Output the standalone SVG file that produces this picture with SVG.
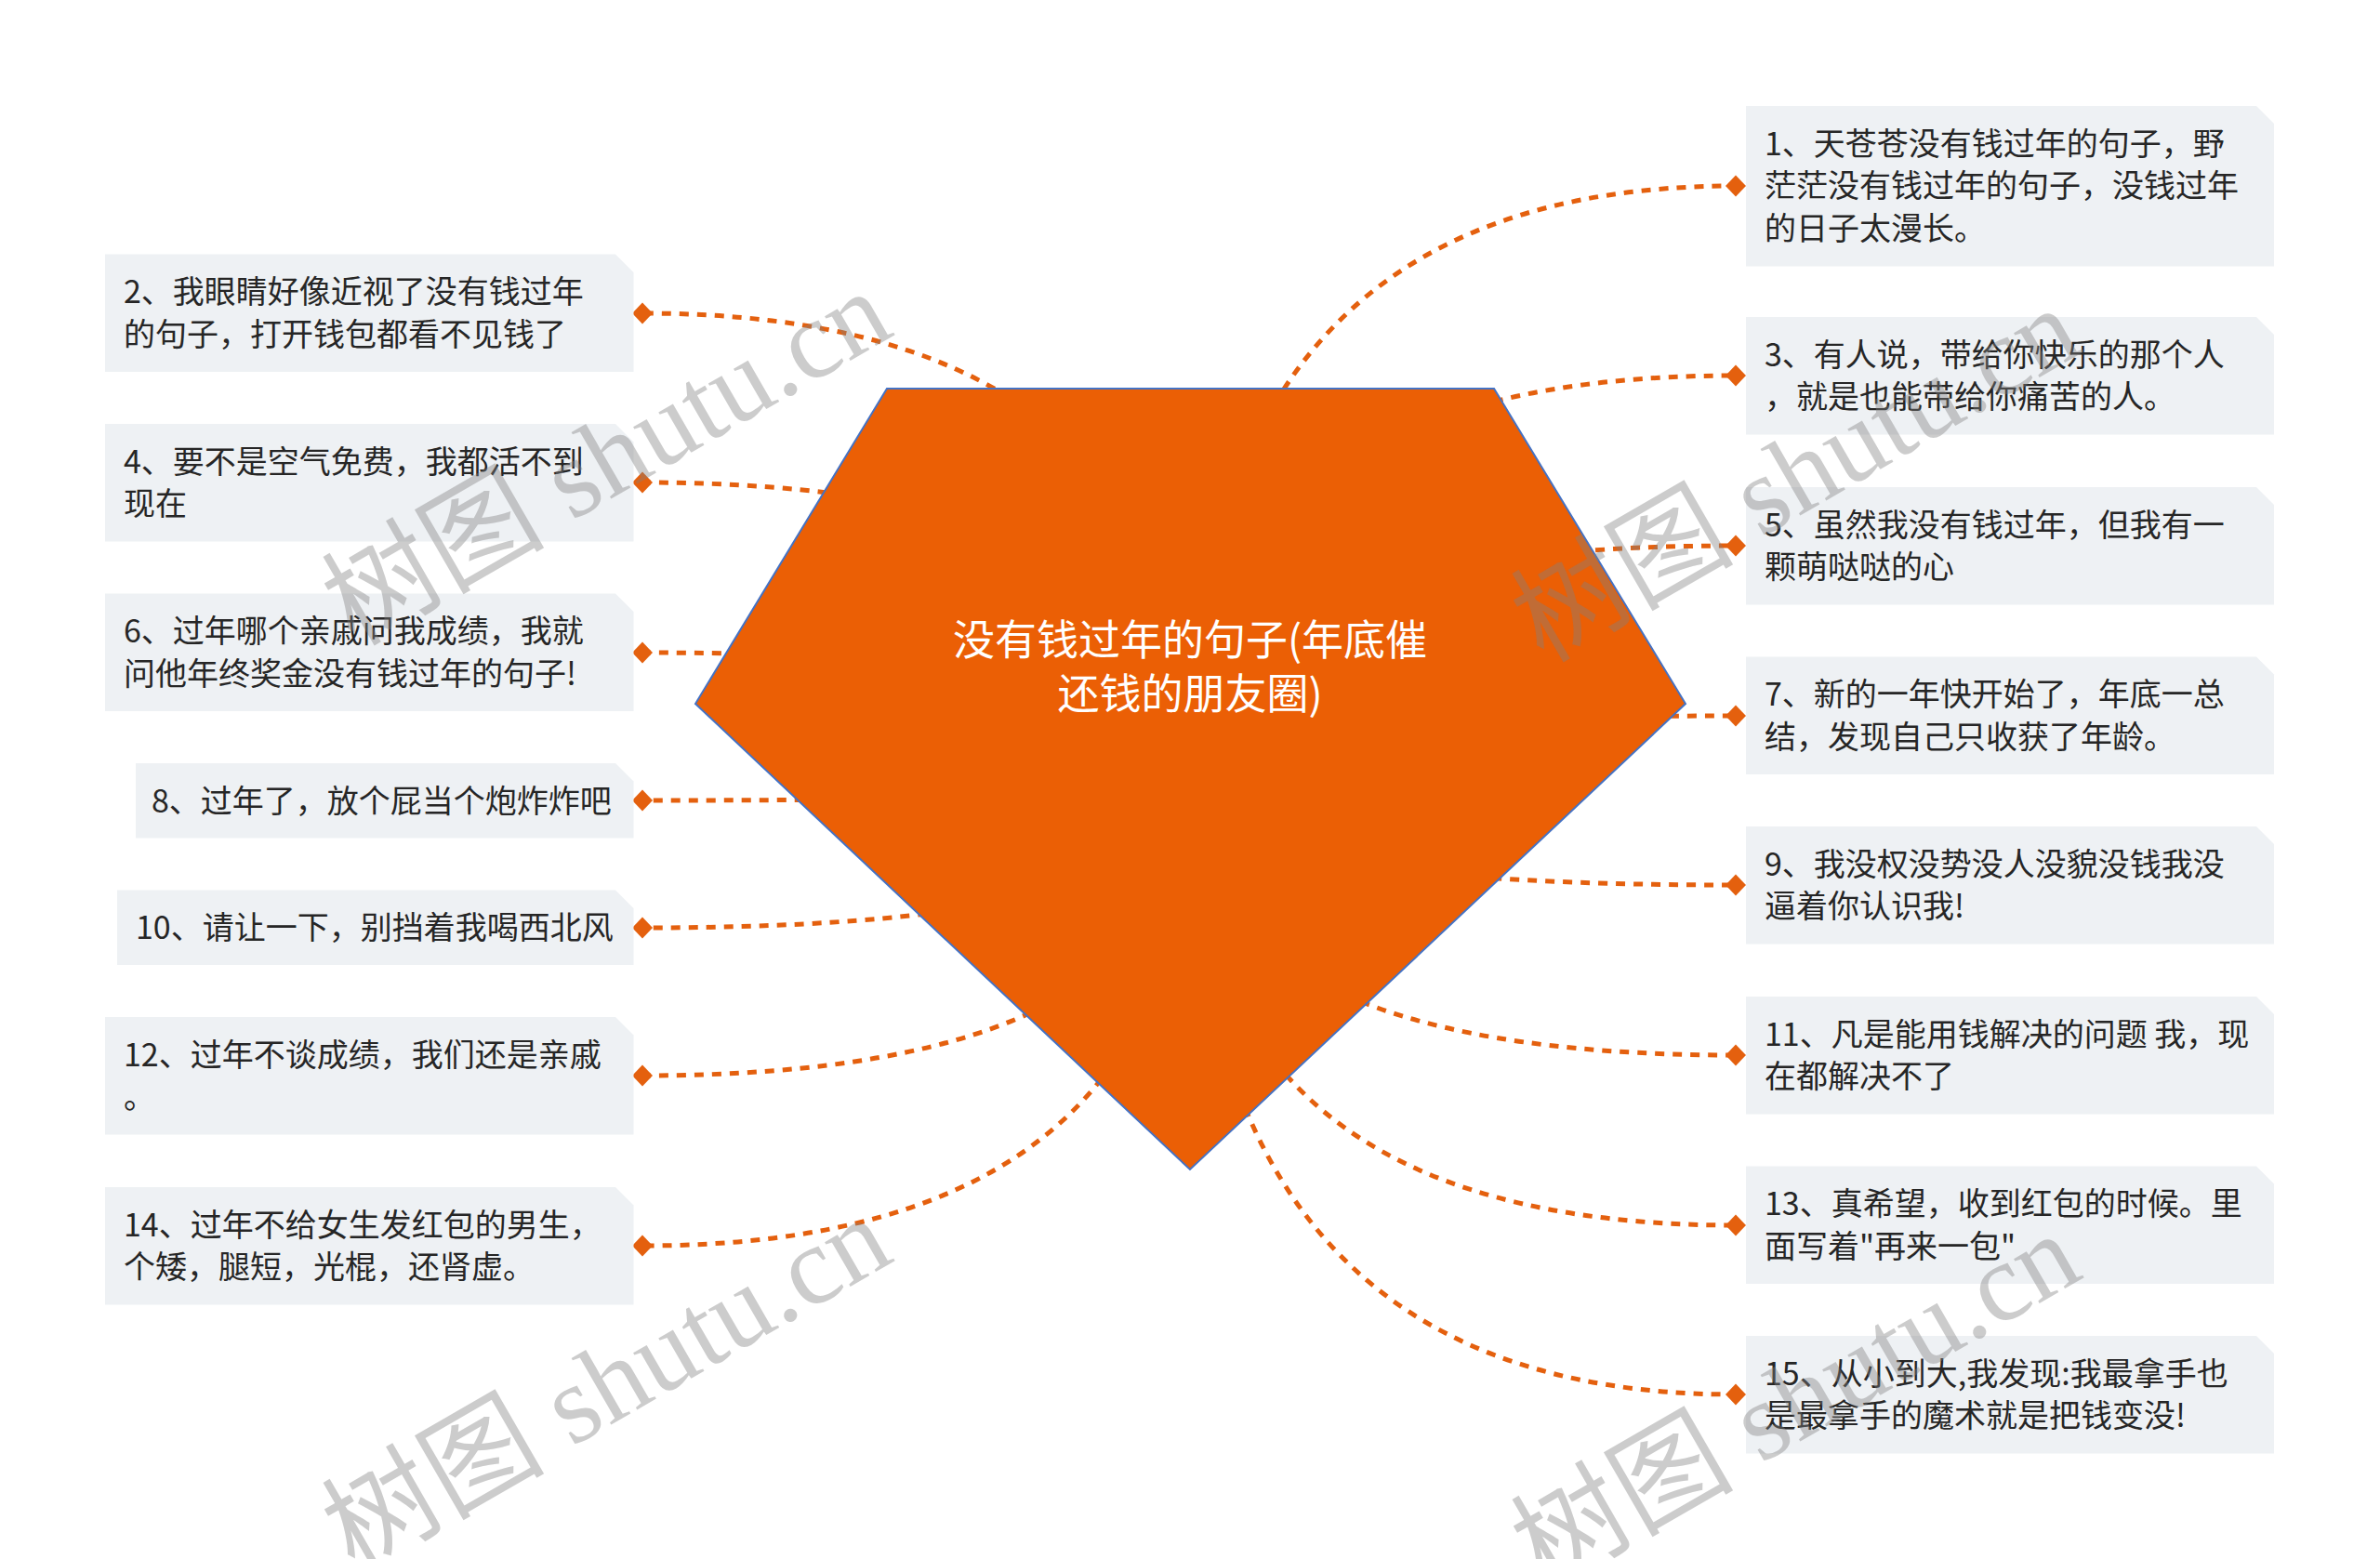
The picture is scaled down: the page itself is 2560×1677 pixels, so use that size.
<svg xmlns="http://www.w3.org/2000/svg" width="2560" height="1677" viewBox="0 0 2560 1677">
<style>
.box{fill:#EEF1F4}
.t{font-family:"Noto Sans CJK SC","Microsoft YaHei",sans-serif;font-size:34px;fill:#262626}
.root{font-family:"Noto Sans CJK SC","Microsoft YaHei",sans-serif;font-size:45px;fill:#FFFFFF;text-anchor:middle}
.c{fill:none;stroke:#E4600E;stroke-width:5;stroke-dasharray:10 9}
.d{fill:#E4600E}
.wm{font-family:"Liberation Serif","Noto Sans CJK SC",serif;font-size:120px;fill:#7f7f7f;fill-opacity:0.4}
</style>
<rect width="2560" height="1677" fill="#FFFFFF"/>
<g id="connectors">
<path class="c" d="M1280,838 Q1280,200 1867,200"/>
<path class="c" d="M1280,838 Q1280,404 1867,404"/>
<path class="c" d="M1280,838 Q1280,587 1867,587"/>
<path class="c" d="M1280,838 Q1280,770 1867,770"/>
<path class="c" d="M1280,838 Q1280,952 1867,952"/>
<path class="c" d="M1280,838 Q1280,1135 1867,1135"/>
<path class="c" d="M1280,838 Q1280,1318 1867,1318"/>
<path class="c" d="M1280,838 Q1280,1500 1867,1500"/>
<path class="c" d="M1280,838 Q1280,337 691,337"/>
<path class="c" d="M1280,838 Q1280,519 691,519"/>
<path class="c" d="M1280,838 Q1280,702 691,702"/>
<path class="c" d="M1280,838 Q1280,861 691,861"/>
<path class="c" d="M1280,838 Q1280,998 691,998"/>
<path class="c" d="M1280,838 Q1280,1157 691,1157"/>
<path class="c" d="M1280,838 Q1280,1340 691,1340"/>
<polygon class="d" points="1867,188.5 1878,200 1867,211.5 1856,200"/>
<polygon class="d" points="1867,392.5 1878,404 1867,415.5 1856,404"/>
<polygon class="d" points="1867,575.5 1878,587 1867,598.5 1856,587"/>
<polygon class="d" points="1867,758.5 1878,770 1867,781.5 1856,770"/>
<polygon class="d" points="1867,940.5 1878,952 1867,963.5 1856,952"/>
<polygon class="d" points="1867,1123.5 1878,1135 1867,1146.5 1856,1135"/>
<polygon class="d" points="1867,1306.5 1878,1318 1867,1329.5 1856,1318"/>
<polygon class="d" points="1867,1488.5 1878,1500 1867,1511.5 1856,1500"/>
<polygon class="d" points="691,325.5 702,337 691,348.5 680,337"/>
<polygon class="d" points="691,507.5 702,519 691,530.5 680,519"/>
<polygon class="d" points="691,690.5 702,702 691,713.5 680,702"/>
<polygon class="d" points="691,849.5 702,861 691,872.5 680,861"/>
<polygon class="d" points="691,986.5 702,998 691,1009.5 680,998"/>
<polygon class="d" points="691,1145.5 702,1157 691,1168.5 680,1157"/>
<polygon class="d" points="691,1328.5 702,1340 691,1351.5 680,1340"/>
</g>
<g id="root">
<polygon points="954,418 1607,418 1813,757 1280,1258 748,757" fill="#EB5F05" stroke="#4472C4" stroke-width="2"/>
<text class="root"><tspan x="1280" y="705">没有钱过年的句子(年底催</tspan><tspan x="1280" y="763">还钱的朋友圈)</tspan></text>
</g>
<g id="n1">
<path class="box" d="M1878,114 H2427 L2446,133 V286.5 H1878 Z"/>
<text class="t"><tspan x="1898" y="166.5">1、天苍苍没有钱过年的句子，野</tspan><tspan x="1898" y="212.2">茫茫没有钱过年的句子，没钱过年</tspan><tspan x="1898" y="257.9">的日子太漫长。</tspan></text>
</g>
<g id="n3">
<path class="box" d="M1878,341 H2427 L2446,360 V467.5 H1878 Z"/>
<text class="t"><tspan x="1898" y="393.5">3、有人说，带给你快乐的那个人</tspan><tspan x="1898" y="439.2">，就是也能带给你痛苦的人。</tspan></text>
</g>
<g id="n5">
<path class="box" d="M1878,524 H2427 L2446,543 V650.5 H1878 Z"/>
<text class="t"><tspan x="1898" y="576.5">5、虽然我没有钱过年，但我有一</tspan><tspan x="1898" y="622.2">颗萌哒哒的心</tspan></text>
</g>
<g id="n7">
<path class="box" d="M1878,706.5 H2427 L2446,725.5 V833 H1878 Z"/>
<text class="t"><tspan x="1898" y="759">7、新的一年快开始了，年底一总</tspan><tspan x="1898" y="804.7">结，发现自己只收获了年龄。</tspan></text>
</g>
<g id="n9">
<path class="box" d="M1878,889 H2427 L2446,908 V1015.5 H1878 Z"/>
<text class="t"><tspan x="1898" y="941.5">9、我没权没势没人没貌没钱我没</tspan><tspan x="1898" y="987.2">逼着你认识我!</tspan></text>
</g>
<g id="n11">
<path class="box" d="M1878,1072 H2427 L2446,1091 V1198.5 H1878 Z"/>
<text class="t"><tspan x="1898" y="1124.5">11、凡是能用钱解决的问题 我，现</tspan><tspan x="1898" y="1170.2">在都解决不了</tspan></text>
</g>
<g id="n13">
<path class="box" d="M1878,1254.5 H2427 L2446,1273.5 V1381 H1878 Z"/>
<text class="t"><tspan x="1898" y="1307">13、真希望，收到红包的时候。里</tspan><tspan x="1898" y="1352.7">面写着"再来一包"</tspan></text>
</g>
<g id="n15">
<path class="box" d="M1878,1437 H2427 L2446,1456 V1563.5 H1878 Z"/>
<text class="t"><tspan x="1898" y="1489.5">15、从小到大,我发现:我最拿手也</tspan><tspan x="1898" y="1535.2">是最拿手的魔术就是把钱变没!</tspan></text>
</g>
<g id="n2">
<path class="box" d="M113,273.5 H662 L681.5,293 V400 H113 Z"/>
<text class="t"><tspan x="133" y="326">2、我眼睛好像近视了没有钱过年</tspan><tspan x="133" y="371.7">的句子，打开钱包都看不见钱了</tspan></text>
</g>
<g id="n4">
<path class="box" d="M113,456 H662 L681.5,475.5 V582.5 H113 Z"/>
<text class="t"><tspan x="133" y="508.5">4、要不是空气免费，我都活不到</tspan><tspan x="133" y="554.2">现在</tspan></text>
</g>
<g id="n6">
<path class="box" d="M113,638.5 H662 L681.5,658 V765 H113 Z"/>
<text class="t"><tspan x="133" y="691">6、过年哪个亲戚问我成绩，我就</tspan><tspan x="133" y="736.7">问他年终奖金没有钱过年的句子!</tspan></text>
</g>
<g id="n8">
<path class="box" d="M146,821 H662 L681.5,840.5 V901.5 H146 Z"/>
<text class="t" x="163" y="873.5">8、过年了，放个屁当个炮炸炸吧</text>
</g>
<g id="n10">
<path class="box" d="M126,957.5 H662 L681.5,977 V1038 H126 Z"/>
<text class="t" x="146" y="1010">10、请让一下，别挡着我喝西北风</text>
</g>
<g id="n12">
<path class="box" d="M113,1094 H662 L681.5,1113.5 V1220.5 H113 Z"/>
<text class="t"><tspan x="133" y="1146.5">12、过年不谈成绩，我们还是亲戚</tspan><tspan x="133" y="1192.2">。</tspan></text>
</g>
<g id="n14">
<path class="box" d="M113,1277 H662 L681.5,1296.5 V1403.5 H113 Z"/>
<text class="t"><tspan x="133" y="1329.5">14、过年不给女生发红包的男生，</tspan><tspan x="133" y="1375.2">个矮，腿短，光棍，还肾虚。</tspan></text>
</g>
<g id="watermark">
<text class="wm" transform="translate(381,696) rotate(-30)">树图 shutu.cn</text>
<text class="wm" transform="translate(1660,714) rotate(-30)">树图 shutu.cn</text>
<text class="wm" transform="translate(381,1692) rotate(-30)">树图 shutu.cn</text>
<text class="wm" transform="translate(1660,1710) rotate(-30)">树图 shutu.cn</text>
</g>
</svg>
